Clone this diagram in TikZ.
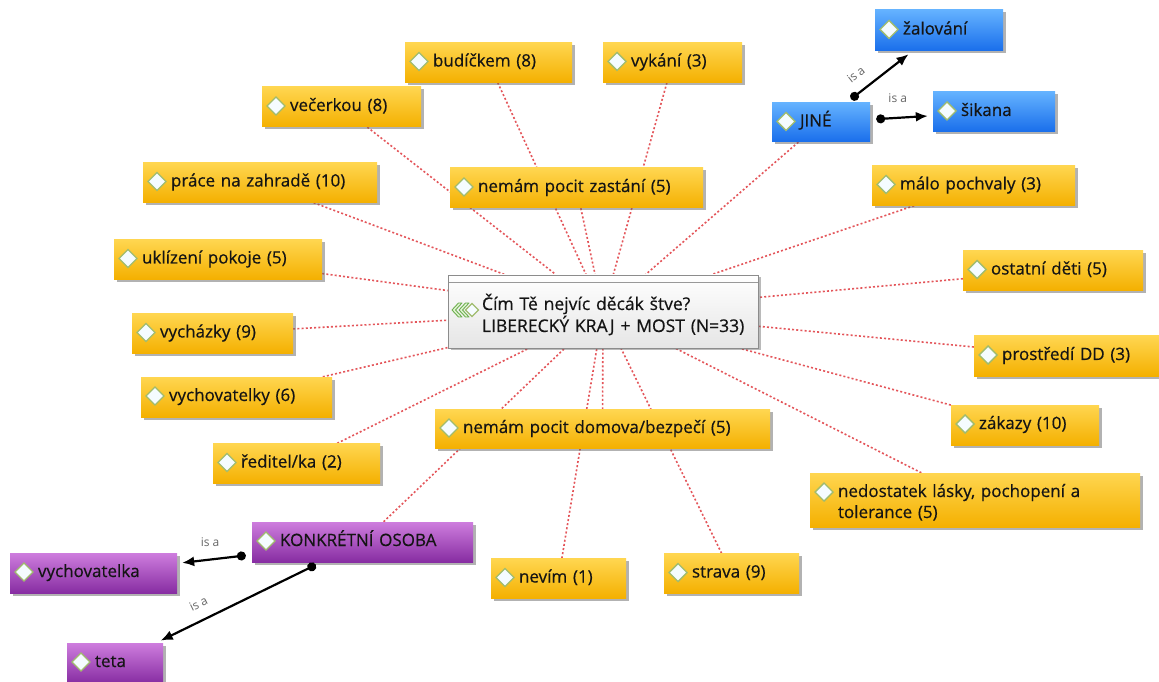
\documentclass[tikz,border=0pt]{standalone}
\usepackage{fontspec}
\setmainfont{Open Sans}[FakeBold=0.5]
\newfontfamily\lblfont{Open Sans}
\usetikzlibrary{shadows,arrows.meta,backgrounds}
\definecolor{yTop}{RGB}{255,214,80}
\definecolor{yBot}{RGB}{244,176,0}
\definecolor{bTop}{RGB}{100,178,255}
\definecolor{bBot}{RGB}{25,110,235}
\definecolor{pTop}{RGB}{206,125,222}
\definecolor{pBot}{RGB}{135,45,162}
\definecolor{dotred}{RGB}{228,85,90}
\definecolor{diaG}{RGB}{160,188,110}
\definecolor{diaF}{RGB}{245,252,255}
\definecolor{chevG}{RGB}{110,175,80}
\definecolor{chevL}{RGB}{225,245,210}
\definecolor{txt}{RGB}{20,20,20}
\tikzset{diamond y/.initial=1pt}
\begin{document}
\begin{tikzpicture}[x=1pt,y=1pt,
  bx/.style={rectangle, minimum width=#1*1pt, text width=#1*1pt-28pt,
    minimum height=40pt, inner xsep=14pt, inner ysep=0pt, align=left,
    text height=12pt, text depth=4pt, font=\fontsize{17}{21}\selectfont, text=txt,
    execute at begin node={\leftskip=14pt},
    drop shadow={shadow xshift=2.5pt, shadow yshift=-2.5pt, fill=black!60, opacity=0.5},
    path picture={\draw[diaG, line width=1.4pt, fill=diaF]
      ([xshift=14pt,yshift=\pgfkeysvalueof{/tikz/diamond y}]path picture bounding box.west)
      +(-9pt,0) -- +(0,9pt) -- +(9pt,0) -- +(0,-9pt) -- cycle;}},
  ybox/.style={bx=#1, top color=yTop, bottom color=yBot},
  bbox/.style={bx=#1, top color=bTop, bottom color=bBot},
  pbox/.style={bx=#1, top color=pTop, bottom color=pBot},
  cbox/.style={rectangle, minimum width=310pt, minimum height=73pt, text width=302pt,
    inner xsep=4pt, inner ysep=0pt, align=left, text height=13pt, text depth=16pt,
    font=\fontsize{17.5}{22}\selectfont, text=txt,
    top color=white, bottom color=black!10, draw=black!45, line width=0.8pt,
    execute at begin node={\leftskip=30pt},
    drop shadow={shadow xshift=2.5pt, shadow yshift=-2.5pt, fill=black!60, opacity=0.45},
    path picture={
      \draw[black!40, line width=0.8pt] ([yshift=-7pt]path picture bounding box.north west) -- ([yshift=-7pt]path picture bounding box.north east);
      \begin{scope}[shift={([xshift=10pt,yshift=15.5pt]path picture bounding box.west)}]
        \foreach \dx in {0,7} \draw[chevG, fill=chevL, line width=0.9pt, line join=round]
          (\dx,0) -- (\dx+6.5,7) -- (\dx+10,7) -- (\dx+3.5,0) -- (\dx+10,-7) -- (\dx+6.5,-7) -- cycle;
        \draw[diaG, line width=1.2pt, fill=diaF] (20,0) +(-6.5,0) -- +(0,6.5) -- +(6.5,0) -- +(0,-6.5) -- cycle;
      \end{scope}}},
  dline/.style={dotred, line width=1.6pt, dash pattern=on 2pt off 2.2pt},
  isa/.style={black, line width=2.2pt, {Circle[length=9pt]}-{Latex[length=12pt,width=10pt]},
    shorten <=6pt, shorten >=5pt},
  lbl/.style={font=\lblfont\fontsize{12}{14}\selectfont, text=black!60, inner sep=1pt}
]
\useasboundingbox (0,0) rectangle (1159,681);

\node[ybox=167] (bud) at (488.5,618.5) {budíčkem (8)};
\node[ybox=139] (vyk) at (672.5,618.5) {vykání (3)};
\node[ybox=159] (vec) at (341.5,574) {večerkou (8)};
\node[bbox=128, minimum height=41pt] (zal) at (939,650.5) {žalování};
\node[bbox=98, minimum height=39pt] (jine) at (821,558.5) {JINÉ};
\node[bbox=122] (sik) at (994,569) {šikana};
\node[ybox=234] (prace) at (260,498.5) {práce na zahradě (10)};
\node[ybox=253] (zast) at (576.5,493) {nemám pocit zastání (5)};
\node[ybox=203] (malo) at (973.5,495.5) {málo pochvaly (3)};
\node[ybox=208] (ukl) at (218,421.5) {uklízení pokoje (5)};
\node[cbox] (c) at (603,369.5) {Čím Tě nejvíc děcák štve?\\LIBERECKÝ KRAJ + MOST (N=33)};
\node[ybox=180] (ost) at (1053,410.5) {ostatní děti (5)};
\node[ybox=161] (vychaz) at (212.5,347.5) {vycházky (9)};
\node[ybox=188] (prost) at (1068,325) {prostředí DD (3)};
\node[ybox=191] (vychy) at (236.5,284) {vychovatelky (6)};
\node[ybox=148] (zak) at (1025,256) {zákazy (10)};
\node[ybox=335, minimum height=39pt] (domov) at (602.5,252) {nemám pocit domova/bezpečí (5)};
\node[ybox=167] (red) at (296.5,217.5) {ředitel/ka (2)};
\node[ybox=330, minimum height=54pt, text height=13pt, text depth=19pt, diamond y=8pt] (nedo) at (975,181) {nedostatek lásky, pochopení a\\tolerance (5)};
\node[pbox=221] (konk) at (362.5,139) {KONKRÉTNÍ OSOBA};
\node[pbox=167] (vychka) at (93.5,108) {vychovatelka};
\node[ybox=135] (nevim) at (558.5,102.5) {nevím (1)};
\node[ybox=135] (strava) at (731.5,107.5) {strava (9)};
\node[pbox=96] (teta) at (115,18) {teta};

\begin{scope}[on background layer]
\fill[white] (0,0) rectangle (1159,681);
\foreach \n in {bud,vyk,vec,jine,prace,zast,malo,ukl,ost,vychaz,prost,vychy,zak,domov,red,nedo,konk,nevim,strava}
  \draw[dline] (\n) -- (c);
\end{scope}

\draw[isa] (jine) -- node[lbl, pos=0.3, sloped, above=10pt] {is a} (zal);
\draw[isa] (jine) -- node[lbl, pos=0.44, above=13pt] {is a} (sik);
\draw[isa] (konk) -- node[lbl, pos=0.56, above=11pt] {is a} (vychka);
\draw[isa] (konk) -- node[lbl, pos=0.70, sloped, above=10pt] {is a} (teta);
\end{tikzpicture}
\end{document}
